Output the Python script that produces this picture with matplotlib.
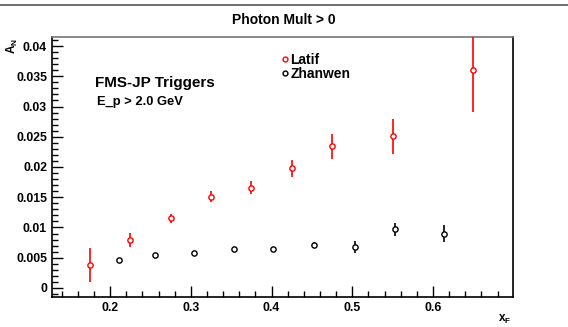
import matplotlib
matplotlib.use("Agg")
import matplotlib.pyplot as plt
from matplotlib.ticker import MultipleLocator
from matplotlib.lines import Line2D

plt.rcParams['font.family'] = ['Liberation Sans', 'DejaVu Sans']
plt.rcParams['font.weight'] = 'bold'

# Latif
latif_x = [0.175, 0.225, 0.275, 0.325, 0.375, 0.425, 0.475, 0.55, 0.65]
latif_y = [0.0038, 0.0079, 0.0115, 0.0151, 0.0166, 0.0198, 0.0234, 0.0251, 0.0360]
latif_err = [0.0028, 0.0012, 0.0008, 0.0009, 0.0011, 0.0014, 0.0021, 0.0029, 0.0069]

# Zhanwen
zhan_x = [0.211, 0.256, 0.304, 0.354, 0.402, 0.453, 0.503, 0.553, 0.613]
zhan_y = [0.0046, 0.0054, 0.0057, 0.00645, 0.0065, 0.00705, 0.0068, 0.0097, 0.0090]
zhan_err = [0.0002, 0.0002, 0.0002, 0.0003, 0.0003, 0.0005, 0.0010, 0.0011, 0.0014]

fig = plt.figure(figsize=(5.68, 3.27), dpi=100)
ax = fig.add_axes([0.0915, 0.0917, 0.8116, 0.7952])

ax.errorbar(latif_x, latif_y, yerr=latif_err, fmt='o', mfc='white', mec='red',
            ecolor='red', ms=3.8, mew=1.0, elinewidth=1.2, capsize=0, zorder=3)
ax.errorbar(zhan_x, zhan_y, yerr=zhan_err, fmt='o', mfc='white', mec='black',
            ecolor='black', ms=3.8, mew=1.0, elinewidth=1.2, capsize=0, zorder=3)

ax.set_xlim(0.128, 0.699)
ax.set_ylim(-0.0015, 0.0415)
ax.xaxis.set_minor_locator(MultipleLocator(0.02))
ax.yaxis.set_minor_locator(MultipleLocator(0.001))
ax.tick_params(which='both', direction='in', top=False, right=False, labelsize=8.8)
ax.tick_params(which='major', length=8, width=1)
ax.tick_params(which='minor', length=4, width=1)
ax.set_xticks([0.2, 0.3, 0.4, 0.5, 0.6])
ax.set_xticklabels(['0.2', '0.3', '0.4', '0.5', '0.6'])
ax.set_yticks([0, 0.005, 0.01, 0.015, 0.02, 0.025, 0.03, 0.035, 0.04])
ax.set_yticklabels(['0', '0.005', '0.01', '0.015', '0.02', '0.025', '0.03', '0.035', '0.04'])
for lab in ax.get_xticklabels() + ax.get_yticklabels():
    lab.set_fontweight('bold')
for s in ax.spines.values():
    s.set_linewidth(1.2)
ax.spines['top'].set_color('#777777')

fig.text(0.5, 0.940, 'Photon Mult > 0', ha='center', va='center', fontsize=10, fontweight='bold')
fig.text(0.889, 0.022, r'x$_\mathregular{F}$', ha='center', va='center', fontsize=8.5, fontweight='bold')
fig.text(0.022, 0.86, r'A$_\mathregular{N}$', ha='center', va='center', fontsize=8.5, fontweight='bold', rotation=90)

fig.text(95/568, 1-83/327, 'FMS-JP Triggers', ha='left', va='center', fontsize=11, fontweight='bold')
fig.text(97/568, 1-102/327, 'E_p > 2.0 GeV', ha='left', va='center', fontsize=9.3, fontweight='bold')

handles = [Line2D([], [], ls='none', marker='o', mfc='white', mec='red', ms=3.5, mew=1),
           Line2D([], [], ls='none', marker='o', mfc='white', mec='black', ms=3.5, mew=1)]
leg = fig.legend(handles, ['Latif', 'Zhanwen'], loc='upper left',
                 bbox_to_anchor=(282/568, 1-53/327), frameon=False,
                 handlelength=0.4, handletextpad=0.2, labelspacing=0.0,
                 borderpad=0, borderaxespad=0, prop={'weight': 'bold', 'size': 10})

fig.add_artist(Line2D([0, 1], [1-5/327, 1-5/327], transform=fig.transFigure, color='#555555', lw=1.2))

fig.savefig('out.png', dpi=100)
